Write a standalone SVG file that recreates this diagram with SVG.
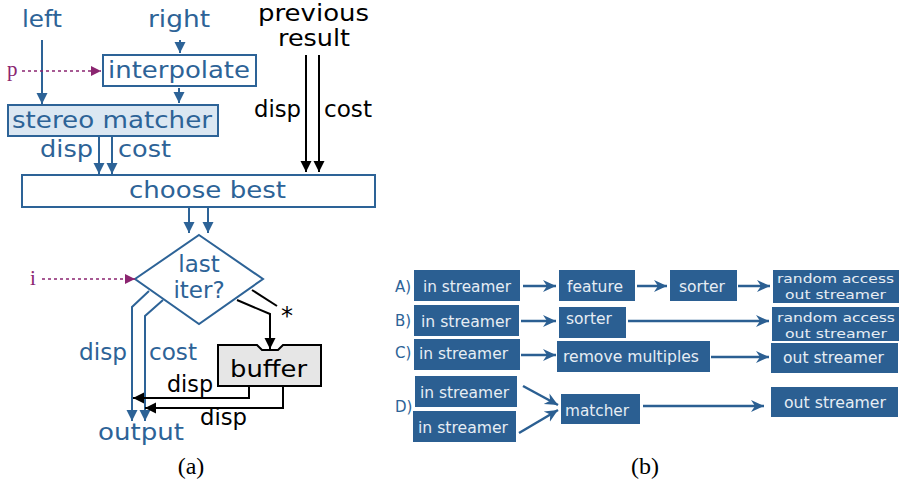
<svg xmlns="http://www.w3.org/2000/svg" width="899" height="485" viewBox="0 0 899 485">
<style>
.t{font-family:"DejaVu Sans",sans-serif;font-size:23px}
.bl{fill:#2d6397}
.bk{fill:#000}
.s{font-family:"Liberation Serif",serif;font-size:21px}
.cap{font-family:"Liberation Serif",serif;font-size:24px}
.lb{fill:none;stroke:#2d6397;stroke-width:2}
.lk{fill:none;stroke:#000;stroke-width:2}
.lp{fill:none;stroke:#8b2570;stroke-width:1.5;stroke-dasharray:3,3}
.box{fill:#2b5f92}
.bt{font-family:"DejaVu Sans",sans-serif;font-size:15px;fill:#e6edf4}
.bt2{font-family:"DejaVu Sans",sans-serif;font-size:13px;fill:#e6edf4}
.lab{font-family:"DejaVu Sans",sans-serif;font-size:15px;fill:#2d6397}
.ra{fill:none;stroke:#2b5f92;stroke-width:2.5}
</style>
<defs>
<marker id="mb" markerUnits="userSpaceOnUse" markerWidth="12" markerHeight="12" refX="11" refY="6" orient="auto"><path d="M0,0.5 L11,6 L0,11.5 z" fill="#2d6397"/></marker>
<marker id="mk" markerUnits="userSpaceOnUse" markerWidth="12" markerHeight="12" refX="11" refY="6" orient="auto"><path d="M0,0.5 L11,6 L0,11.5 z" fill="#000"/></marker>
<marker id="mp" markerUnits="userSpaceOnUse" markerWidth="12" markerHeight="12" refX="10" refY="6" orient="auto"><path d="M0,1 L10,6 L0,11 z" fill="#8b2570"/></marker>
<marker id="mr" markerUnits="userSpaceOnUse" markerWidth="14" markerHeight="14" refX="13" refY="7" orient="auto"><path d="M0,1 L13,7 L0,13 L4,7 z" fill="#2b5f92"/></marker>
</defs>

<!-- panel (a) -->
<g id="label-left"><text class="t bl" x="22" y="27" textLength="40" lengthAdjust="spacingAndGlyphs">left</text></g>
<g id="label-right"><text class="t bl" x="148" y="27" textLength="62" lengthAdjust="spacingAndGlyphs">right</text></g>
<g id="label-previous"><text class="t bk" x="258" y="21" textLength="111" lengthAdjust="spacingAndGlyphs">previous</text><text class="t bk" x="278" y="46" textLength="72" lengthAdjust="spacingAndGlyphs">result</text></g>
<g id="label-p"><text class="s" x="7" y="76" fill="#8b2570">p</text></g>
<g id="label-i"><text class="s" x="30" y="285" fill="#8b2570">i</text></g>

<g id="interpolate"><rect x="103" y="55" width="153" height="31" fill="#fff" stroke="#2d6397" stroke-width="2"/><text class="t bl" x="108" y="78" textLength="142" lengthAdjust="spacingAndGlyphs">interpolate</text></g>
<g id="stereo-matcher"><rect x="8" y="105" width="210" height="31" fill="#dbe7f2" stroke="#2d6397" stroke-width="2"/><text class="t bl" x="12" y="128" textLength="200" lengthAdjust="spacingAndGlyphs">stereo matcher</text></g>
<g id="choose-best"><rect x="22" y="175" width="353" height="32" fill="#fff" stroke="#2d6397" stroke-width="2"/><text class="t bl" x="129" y="198" textLength="157" lengthAdjust="spacingAndGlyphs">choose best</text></g>
<g id="last-iter"><polygon points="199,235 263,279 199,324 135,279" fill="#fff" stroke="#2d6397" stroke-width="2"/><text class="t bl" x="199" y="272" text-anchor="middle">last</text><text class="t bl" x="199" y="298" text-anchor="middle">iter?</text></g>
<g id="buffer"><path d="M218,345 H257 L262,350 H278 L283,345 H321 V386 H218 z" fill="#e6e6e6" stroke="#000" stroke-width="2"/><text class="t bk" x="230" y="377" textLength="77" lengthAdjust="spacingAndGlyphs">buffer</text></g>
<g id="label-output"><text class="t bl" x="98" y="440" textLength="86" lengthAdjust="spacingAndGlyphs">output</text></g>

<g id="connectors">
<line class="lb" x1="180" y1="40" x2="180" y2="53" marker-end="url(#mb)"/>
<line class="lb" x1="42" y1="40" x2="42" y2="104" marker-end="url(#mb)"/>
<line class="lp" x1="22" y1="71" x2="101" y2="71" marker-end="url(#mp)"/>
<line class="lb" x1="179" y1="88" x2="179" y2="103" marker-end="url(#mb)"/>
<line class="lb" x1="99" y1="136" x2="99" y2="174" marker-end="url(#mb)"/>
<line class="lb" x1="112" y1="136" x2="112" y2="174" marker-end="url(#mb)"/>
<line class="lk" x1="306" y1="55" x2="306" y2="172" marker-end="url(#mk)"/>
<line class="lk" x1="319" y1="55" x2="319" y2="172" marker-end="url(#mk)"/>
<line class="lb" x1="189" y1="207" x2="189" y2="233" marker-end="url(#mb)"/>
<line class="lb" x1="208" y1="207" x2="208" y2="233" marker-end="url(#mb)"/>
<line class="lp" x1="42" y1="279" x2="135" y2="279" marker-end="url(#mp)"/>
<polyline class="lb" points="149,291 132,307 132,421" marker-end="url(#mb)"/>
<polyline class="lb" points="163,300 145,316 145,421" marker-end="url(#mb)"/>
<line class="lk" x1="252" y1="290" x2="277" y2="306"/>
<polyline class="lk" points="237,300 270,314 270,349" marker-end="url(#mk)"/>
<polyline class="lk" points="249,386 249,398 133,398" marker-end="url(#mk)"/>
<polyline class="lk" points="283,386 283,408 145,408" marker-end="url(#mk)"/>
<text class="t bl" x="40" y="157" textLength="53" lengthAdjust="spacingAndGlyphs">disp</text>
<text class="t bl" x="118" y="157" textLength="53" lengthAdjust="spacingAndGlyphs">cost</text>
<text class="t bk" x="254" y="117" textLength="47" lengthAdjust="spacingAndGlyphs">disp</text>
<text class="t bk" x="324" y="117" textLength="48" lengthAdjust="spacingAndGlyphs">cost</text>
<text class="t bk" x="281" y="324" style="font-size:24px">*</text>
<text class="t bl" x="79" y="360" textLength="48" lengthAdjust="spacingAndGlyphs">disp</text>
<text class="t bl" x="149" y="360" textLength="48" lengthAdjust="spacingAndGlyphs">cost</text>
<text class="t bk" x="167" y="392" textLength="46" lengthAdjust="spacingAndGlyphs">disp</text>
<text class="t bk" x="200" y="425" textLength="47" lengthAdjust="spacingAndGlyphs">disp</text>
</g>
<g id="caption-a"><text class="cap bk" x="191" y="474" text-anchor="middle">(a)</text></g>

<!-- panel (b) -->
<g id="row-labels">
<text class="lab" x="395" y="292">A)</text>
<text class="lab" x="395" y="326">B)</text>
<text class="lab" x="395" y="358">C)</text>
<text class="lab" x="395" y="412">D)</text>
</g>
<g id="a-in"><rect class="box" x="414" y="270" width="106" height="31"/><text class="bt" x="423" y="292" textLength="88" lengthAdjust="spacingAndGlyphs">in streamer</text></g>
<g id="a-feature"><rect class="box" x="559" y="270" width="76" height="31"/><text class="bt" x="567" y="292" textLength="56" lengthAdjust="spacingAndGlyphs">feature</text></g>
<g id="a-sorter"><rect class="box" x="670" y="270" width="67" height="31"/><text class="bt" x="679" y="292" textLength="46" lengthAdjust="spacingAndGlyphs">sorter</text></g>
<g id="a-out"><rect class="box" x="773" y="270" width="126" height="33"/><text class="bt2" x="777" y="283" textLength="117" lengthAdjust="spacingAndGlyphs">random access</text><text class="bt2" x="785" y="299" textLength="101" lengthAdjust="spacingAndGlyphs">out streamer</text></g>

<g id="b-in"><rect class="box" x="414" y="305" width="105" height="31"/><text class="bt" x="421" y="327" textLength="90" lengthAdjust="spacingAndGlyphs">in streamer</text></g>
<g id="b-sorter"><rect class="box" x="559" y="307" width="67" height="31"/><text class="bt" x="566" y="324" textLength="46" lengthAdjust="spacingAndGlyphs">sorter</text></g>
<g id="b-out"><rect class="box" x="772" y="307" width="127" height="34"/><text class="bt2" x="777" y="322" textLength="118" lengthAdjust="spacingAndGlyphs">random access</text><text class="bt2" x="785" y="338" textLength="102" lengthAdjust="spacingAndGlyphs">out streamer</text></g>

<g id="c-in"><rect class="box" x="414" y="339" width="106" height="31"/><text class="bt" x="419" y="359" textLength="89" lengthAdjust="spacingAndGlyphs">in streamer</text></g>
<g id="c-remove"><rect class="box" x="557" y="341" width="153" height="31"/><text class="bt" x="563" y="362" textLength="136" lengthAdjust="spacingAndGlyphs">remove multiples</text></g>
<g id="c-out"><rect class="box" x="771" y="343" width="127" height="30"/><text class="bt" x="783" y="363" textLength="101" lengthAdjust="spacingAndGlyphs">out streamer</text></g>

<g id="d-in1"><rect class="box" x="415" y="376" width="102" height="31"/><text class="bt" x="420" y="398" textLength="89" lengthAdjust="spacingAndGlyphs">in streamer</text></g>
<g id="d-in2"><rect class="box" x="413" y="411" width="103" height="31"/><text class="bt" x="418" y="433" textLength="90" lengthAdjust="spacingAndGlyphs">in streamer</text></g>
<g id="d-matcher"><rect class="box" x="561" y="394" width="79" height="30"/><text class="bt" x="565" y="416" textLength="64" lengthAdjust="spacingAndGlyphs">matcher</text></g>
<g id="d-out"><rect class="box" x="771" y="387" width="127" height="30"/><text class="bt" x="784" y="408" textLength="102" lengthAdjust="spacingAndGlyphs">out streamer</text></g>

<g id="connectors-b">
<line class="ra" x1="523" y1="286" x2="556" y2="286" marker-end="url(#mr)"/>
<line class="ra" x1="637" y1="286" x2="667" y2="286" marker-end="url(#mr)"/>
<line class="ra" x1="738" y1="286" x2="770" y2="286" marker-end="url(#mr)"/>
<line class="ra" x1="521" y1="321" x2="556" y2="321" marker-end="url(#mr)"/>
<line class="ra" x1="628" y1="321" x2="769" y2="321" marker-end="url(#mr)"/>
<line class="ra" x1="521" y1="355" x2="556" y2="355" marker-end="url(#mr)"/>
<line class="ra" x1="711" y1="357" x2="769" y2="357" marker-end="url(#mr)"/>
<line class="ra" x1="523" y1="386" x2="558" y2="405" marker-end="url(#mr)"/>
<line class="ra" x1="519" y1="433" x2="558" y2="410" marker-end="url(#mr)"/>
<line class="ra" x1="643" y1="406" x2="764" y2="406" marker-end="url(#mr)"/>
</g>
<g id="caption-b"><text class="cap bk" x="645" y="474" text-anchor="middle">(b)</text></g>
</svg>
